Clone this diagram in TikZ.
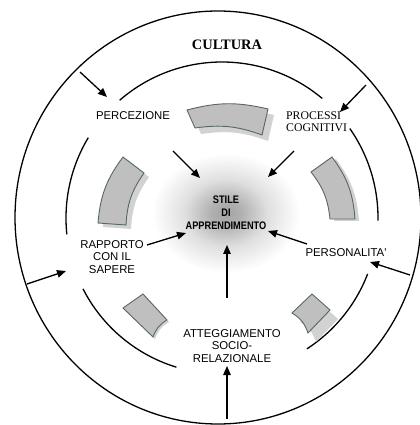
\documentclass[tikz,border=0pt]{standalone}
\usepackage{fontspec}
\setmainfont{Liberation Serif}
\newfontfamily\labelfont{Liberation Sans}
\newfontfamily\corefont[FakeStretch=0.84]{Liberation Sans}
\usetikzlibrary{arrows.meta, shadows}
\definecolor{blockedge}{RGB}{88,102,102}
\pgfdeclareradialshading{glow}{\pgfpoint{0bp}{0bp}}{color(0bp)=(gray!72); color(5bp)=(gray!62); color(14bp)=(gray!25); color(25bp)=(white); color(50bp)=(white)}

\begin{document}
\begin{tikzpicture}[
    x=1bp, y=1bp,
    ring/.style={line width=1.3bp},
    arrow/.style={line width=1.3bp, -{Triangle[length=9bp, width=7.5bp]}},
    lbl/.style={inner sep=0pt, align=center, font=\labelfont\fontsize{11.4}{12.8}\selectfont},
    lblserif/.style={inner sep=0pt, align=left, font=\fontsize{11.8}{12.4}\selectfont},
    title/.style={inner sep=0pt, font=\bfseries\fontsize{14.5}{16}\selectfont},
    core/.style={inner sep=0pt, align=center, font=\corefont\bfseries\fontsize{11}{13}\selectfont},
    block/.style={fill=gray!50, draw=blockedge, line width=0.9bp}
]
\useasboundingbox (0,0) rectangle (420,425);

% Glow behind the centre
\shade[shading=glow] (226,212) ellipse [x radius=74, y radius=60];

% Rings
\draw[ring] (218,207.5) ellipse [x radius=203, y radius=206.5];
\foreach \a/\b in {50/131, 149/186, 207/253, -57/-21, -1/35}
    \draw[ring] ([shift={(\a:156)}]222,207) arc[start angle=\a, end angle=\b, radius=156];

% Gray blocks
\path[block, drop shadow={shadow xshift=6bp, shadow yshift=-6bp, fill=gray!35, opacity=1}]
    (187,315) to[bend left=14] (268,316) -- (262,290) to[bend right=14] (195,297) -- cycle;
\path[block, drop shadow={shadow xshift=5bp, shadow yshift=-4bp, fill=gray!35, opacity=1}]
    (98,202) to[bend left=16] (123,268) -- (144,252) to[bend right=16] (126,200) -- cycle;
\path[block, drop shadow={shadow xshift=4bp, shadow yshift=-2bp, fill=gray!35, opacity=1}]
    (330,206) to[bend right=16] (311,253) -- (332,268) to[bend left=16] (355,206) -- cycle;
\path[block, drop shadow={shadow xshift=2bp, shadow yshift=-2bp, fill=gray!35, opacity=1}]
    (143,131) -- (123,117) -- (153,88) to[bend left=20] (167,105) -- cycle;
\path[block, drop shadow={shadow xshift=8bp, shadow yshift=-9bp, fill=gray!35, opacity=1}]
    (312,131) -- (330,115) -- (308,92) to[bend right=20] (292,112) -- cycle;

% Nodes
\node[title] (cultura) at (227,380) {CULTURA};
\node[lbl] (percezione) at (133,309) {PERCEZIONE};
\node[lblserif, anchor=west] (processi) at (286,303) {PROCESSI\\COGNITIVI};
\node[core] (stile) at (226,212) {STILE\\DI\\APPRENDIMENTO};
\node[lbl] (rapporto) at (112,168) {RAPPORTO\\CON IL\\SAPERE};
\node[lbl] (personalita) at (346,172) {PERSONALITA'};
\node[lbl] (atteggiamento) at (232,79) {ATTEGGIAMENTO\\SOCIO-\\RELAZIONALE};

% Arrow ends
\coordinate (cultL) at (80,353);   \coordinate (percIn) at (107,328);
\coordinate (cultR) at (366,340);  \coordinate (procIn) at (340,313);
\coordinate (percOut) at (173,274); \coordinate (stileNW) at (200,247);
\coordinate (procOut) at (294,274); \coordinate (stileNE) at (268,248);
\coordinate (rappOut) at (147,180); \coordinate (stileW) at (186,192);
\coordinate (persOut) at (307,181); \coordinate (stileE) at (268,194);
\coordinate (attOut) at (227,127);  \coordinate (stileS) at (227,180);
\coordinate (cultB) at (227,6);     \coordinate (attIn) at (227,59);
\coordinate (cultW) at (27,141);    \coordinate (rappIn) at (66,154);
\coordinate (cultE) at (410,150);   \coordinate (persIn) at (370,163);

% Edges
\draw[arrow] (cultL) -- (percIn);
\draw[arrow] (cultR) -- (procIn);
\draw[arrow] (percOut) -- (stileNW);
\draw[arrow] (procOut) -- (stileNE);
\draw[arrow] (rappOut) -- (stileW);
\draw[arrow] (persOut) -- (stileE);
\draw[arrow] (attOut) -- (stileS);
\draw[arrow] (cultB) -- (attIn);
\draw[arrow] (cultW) -- (rappIn);
\draw[arrow] (cultE) -- (persIn);

\end{tikzpicture}
\end{document}
